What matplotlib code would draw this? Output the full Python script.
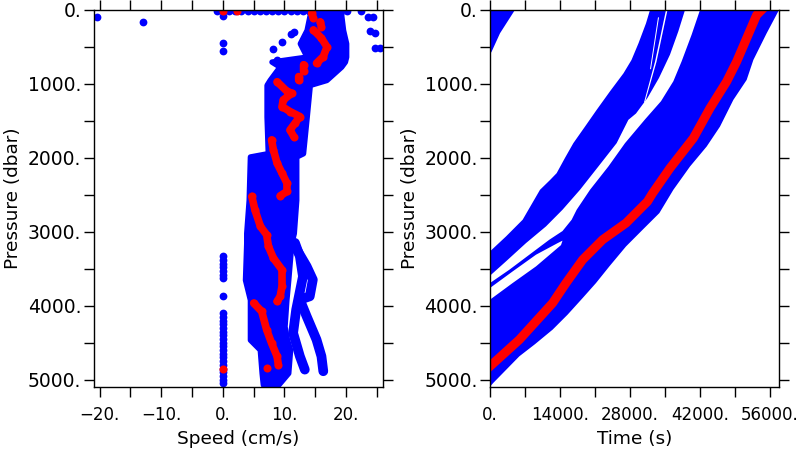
import numpy as np
import matplotlib
matplotlib.use("Agg")
import matplotlib.pyplot as plt
from matplotlib.ticker import MultipleLocator, FuncFormatter

BLUE = "#0000ff"
RED = "#ff0000"

# ---- left panel: speed profiles ----
# main cloud outline (pressure, left edge, right edge)
cloud_pres = [0, 68, 270, 450, 631, 698, 766, 946, 1013, 1441, 1937, 1982,
              2567, 3017, 3152, 3648, 3918, 4279, 4459, 4593, 4908, 5066]
cloud_left = [14.1, 14.1, 13.6, 12.5, 13.6, 7.9, 9.2, 7.6, 7.1, 7.1, 7.3, 4.4,
              4.2, 3.8, 3.8, 3.6, 4.4, 4.4, 4.4, 6.0, 6.3, 6.5]
cloud_right = [19.3, 19.2, 19.5, 20.0, 20.0, 19.8, 19.2, 16.8, 14.1, 13.6, 13.0,
               11.9, 11.9, 11.5, 11.1, 10.6, 10.3, 10.0, 10.4, 10.9, 10.6, 9.0]

# side strands leaving the cloud at depth
strand1_speed = [11.7, 13.6, 14.6, 14.1, 12.5, 13.6, 15.2, 16.0, 16.3]
strand1_pres = [3198, 3468, 3648, 3873, 3918, 4144, 4459, 4684, 4886]
strand2_speed = [11.7, 12.5, 13.0, 11.9, 11.4, 12.5, 13.3]
strand2_pres = [3150, 3333, 3603, 4053, 4369, 4684, 4864]

# scattered points
top_row_speed = [-1, 0, 1, 2, 3, 4, 5, 6, 7, 8, 9, 10, 11, 12, 13, 14, 20.1, 22.5]
top_row_pres = [20] * 18
stray_speed = [-20.5, -12.9, 0, 0, 0, 11.5, 11.0, 9.6, 8.2, 8.8, 9.8,
               23.6, 24.4, 23.9, 24.7, 24.7, 25.5]
stray_pres = [90, 158, 80, 450, 550, 293, 330, 428, 532, 676, 698,
              90, 90, 290, 315, 518, 518]
zero_pres = [3333, 3380, 3430, 3480, 3530, 3580, 3630, 3873,
             4098, 4150, 4200, 4250, 4300, 4350, 4400, 4450, 4500, 4550,
             4600, 4650, 4700, 4750, 4800, 4850, 4900, 4950, 5000, 5043]

# highlighted profile (nan = gap)
red_speed = [0, np.nan, 2.3, np.nan, 14.4, 14.7, np.nan, 15.8, 16.0, np.nan,
             14.7, 16.0, 16.9, 16.3, 15.2, np.nan, 13.1, 13.1, np.nan, 12.3, 12.3, np.nan,
             8.8, 10.4, 11.2, 9.8, 9.6, 10.9, 12.5, 11.7, 10.9, 11.5, np.nan,
             7.9, 8.2, 8.8, 9.6, 10.4, 10.4, 9.3, np.nan,
             4.7, 5.2, 6.1, 7.1, 7.4, 8.2, 9.6, 9.6, 9.3, 8.8, np.nan,
             5.0, 6.3, 7.1, 7.9, 8.8, 9.0, np.nan, 7.1, np.nan, 0]
red_pres = [20, np.nan, 20, np.nan, 45, 110, np.nan, 160, 225, np.nan,
            270, 380, 500, 630, 720, np.nan, 740, 830, np.nan, 900, 950, np.nan,
            970, 1100, 1126, 1216, 1306, 1374, 1441, 1532, 1622, 1712, np.nan,
            1757, 1892, 2072, 2207, 2342, 2455, 2514, np.nan,
            2522, 2703, 2928, 3040, 3198, 3356, 3514, 3739, 3874, 3941, np.nan,
            3964, 4077, 4324, 4505, 4685, 4797, np.nan, 4841, np.nan, 4856]

# ---- right panel: time vs pressure ----
# outer hull of all descents (time, pressure)
hull_time = [0, 3200, 6530, 10000, 12000, 13330, 15000, 16670, 19000, 21330,
             24000, 26700, 28300, 29700, 31200, 32000,
             57800, 57800, 55330, 52670, 51330, 48670, 46000, 43330, 40000, 36670,
             33870, 30530, 27200, 23870, 21200, 18530, 15530, 12530, 9000, 5870,
             670, 0]
hull_pres = [3265, 3063, 2837, 2432, 2300, 2207, 2000, 1801, 1577, 1351,
             1100, 856, 676, 450, 180, 0,
             0, 0, 315, 676, 946, 1216, 1577, 1847, 2117, 2432,
             2747, 2972, 3198, 3468, 3693, 3896, 4120, 4323, 4520, 4684,
             5043, 5095]
# white channel between the early group and the main band
gap_time = [0, 3200, 7200, 11200, 14500, 18000, 21670, 25330, 27670, 29200,
            31500, 33800, 36000, 37670, 39000,
            42000, 40330, 38330, 36670, 34200, 31000, 27000, 23670, 20000,
            17330, 16330, 14500, 11870, 7870, 3870, 0]
gap_pres = [3594, 3400, 3153, 2927, 2702, 2432, 2117, 1801, 1486, 1400,
            1189, 919, 604, 288, 0,
            0, 333, 694, 964, 1234, 1480, 1801, 2117, 2432,
            2702, 2837, 2990, 3107, 3310, 3513, 3693]
# second narrow gap
gap2_time = [0, 4530, 9200, 13530, 14500, 14200, 9200, 4530, 0]
gap2_pres = [3760, 3536, 3310, 3153, 3120, 3180, 3468, 3693, 3918]
# thin slivers inside the early group
sliver_time = [35200, 35500, 33300, 31000, 30800, 33000]
sliver_pres = [0, 0, 700, 1250, 1250, 700]
sliver2_time = [33600, 33800, 32200, 32000]
sliver2_pres = [100, 100, 800, 800]
# short profile in the top corner
corner_time = [0, 4980, 2000, 330, 0]
corner_pres = [0, 0, 315, 563, 600]
# highlighted profile
red_time = [0, 5870, 12530, 15200, 18530, 22530, 27200, 31500, 32500, 36000,
            40670, 44000, 47330, 49330, 51330, 53330, 54330]
red_tpres = [4819, 4459, 3963, 3693, 3378, 3107, 2882, 2590, 2480, 2139,
             1734, 1328, 968, 698, 383, 68, 0]


def dot_fmt(v, pos):
    s = "%d." % round(v)
    return s.replace("-", "\u2212")


def style_axis(ax):
    ax.set_ylim(5095, 0)
    ax.yaxis.set_major_locator(MultipleLocator(1000))
    ax.yaxis.set_minor_locator(MultipleLocator(500))
    ax.yaxis.set_major_formatter(FuncFormatter(dot_fmt))
    ax.tick_params(which="both", direction="out", length=7.2, width=1.0,
                   top=True, right=True)
    ax.tick_params(axis="y", which="both", pad=1.5, labelsize=13.5)
    ax.tick_params(axis="x", which="both", pad=7, labelsize=12)
    for sp in ax.spines.values():
        sp.set_linewidth(1.0)
    ax.set_ylabel("Pressure (dbar)", fontsize=13.3, labelpad=4)


fig = plt.figure(figsize=(8, 4.5), dpi=100)
ax1 = fig.add_axes([0.1169, 0.1407, 0.3619, 0.8371])
ax2 = fig.add_axes([0.6125, 0.1407, 0.36125, 0.8371])

# left
ax1.fill_betweenx(cloud_pres, cloud_left, cloud_right, color=BLUE, lw=4,
                  edgecolor=BLUE, joinstyle="round")
ax1.plot(strand1_speed, strand1_pres, color=BLUE, lw=7,
         solid_capstyle="round", solid_joinstyle="round")
ax1.plot(strand2_speed, strand2_pres, color=BLUE, lw=7,
         solid_capstyle="round", solid_joinstyle="round")
ax1.plot(top_row_speed, top_row_pres, "o", color=BLUE, ms=5.6, mec="none")
ax1.plot(stray_speed, stray_pres, "o", color=BLUE, ms=5.6, mec="none")
ax1.plot([0] * len(zero_pres), zero_pres, "o", color=BLUE, ms=5.6, mec="none")
ax1.plot(red_speed, red_pres, "-o", color=RED, lw=5.5, ms=5.8, mec="none",
         solid_capstyle="round", solid_joinstyle="round")
ax1.set_xlim(-21, 26)
ax1.xaxis.set_major_locator(MultipleLocator(10))
ax1.xaxis.set_minor_locator(MultipleLocator(5))
ax1.xaxis.set_major_formatter(FuncFormatter(dot_fmt))
style_axis(ax1)
ax1.set_xlabel("Speed (cm/s)", fontsize=13.3, labelpad=4)

# right
ax2.fill(hull_time, hull_pres, color=BLUE, lw=0)
ax2.fill(gap_time, gap_pres, color="white", lw=0)
ax2.fill(gap2_time, gap2_pres, color="white", lw=0)
ax2.fill(sliver_time, sliver_pres, color="white", lw=0)
ax2.fill(sliver2_time, sliver2_pres, color="white", lw=0)
ax2.fill(corner_time, corner_pres, color=BLUE, lw=0)
ax2.plot(red_time, red_tpres, color=RED, lw=6.5, solid_joinstyle="round")
ax2.set_xlim(0, 57800)
ax2.xaxis.set_major_locator(MultipleLocator(14000))
ax2.xaxis.set_minor_locator(MultipleLocator(7000))
ax2.xaxis.set_major_formatter(FuncFormatter(dot_fmt))
style_axis(ax2)
ax2.set_xlabel("Time (s)", fontsize=13.3, labelpad=4)

fig.savefig("out.png", dpi=100)
